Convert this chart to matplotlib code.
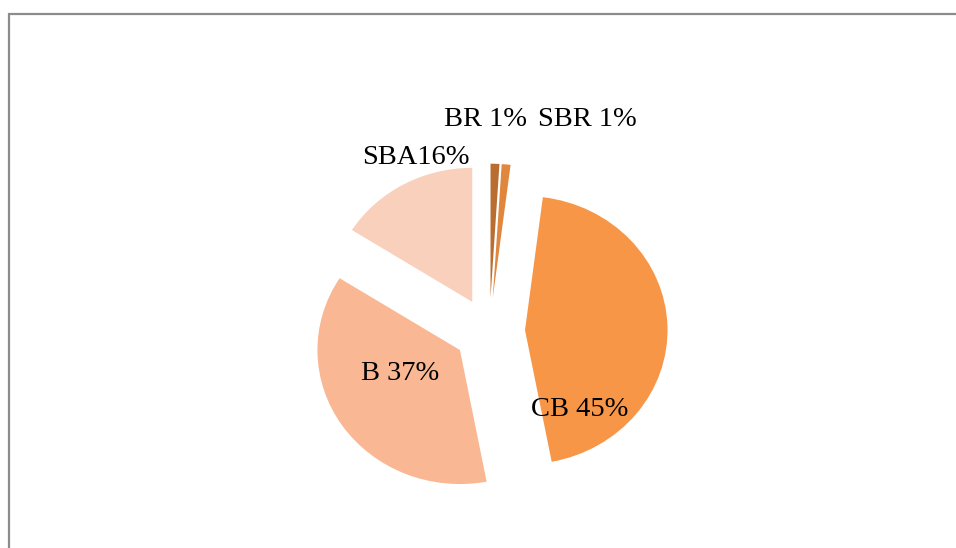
import matplotlib
matplotlib.use("Agg")
import matplotlib.pyplot as plt
from matplotlib.patches import Rectangle

# Data (clockwise from 12 o'clock)
categories = ["BR", "SBR", "CB", "B", "SBA"]
values = [1, 1, 45, 37, 16]
label_texts = ["BR 1%", "SBR 1%", "CB 45%", "B 37%", "SBA16%"]
colors = ["#B96D30", "#E0863D", "#F79646", "#F9B793", "#F9D0BC"]

W, H = 956, 548
fig = plt.figure(figsize=(W / 100, H / 100), dpi=100)
ax = fig.add_axes([0, 0, 1, 1])

ax.pie(values, colors=colors, startangle=90, counterclock=False,
       explode=[0.25] * len(values), radius=1.0,
       wedgeprops=dict(linewidth=0))

# pie geometry in pixels: centre and radii (slightly wider than tall)
cx_px, cy_px = 489.4, 331.2
rx_px, ry_px = 142.5, 134.0
ax.set_aspect('auto')
ax.set_xlim(-cx_px / rx_px, (W - cx_px) / rx_px)
ax.set_ylim(-(H - cy_px) / ry_px, cy_px / ry_px)
ax.axis('off')

# label positions (pixel centres, from top-left)
label_pos = [(485, 120), (587, 120), (580, 409), (400, 374), (416, 158)]
for txt, (px, py) in zip(label_texts, label_pos):
    fig.text(px / W, 1 - py / H, txt, ha='center', va='center',
             fontsize=20.5, family='Liberation Serif', color='black')

# chart border (continues past right and bottom edges)
fig.patches.append(Rectangle((8.5 / W, -0.1), 1.2, (H - 14.5) / H + 0.1,
                             transform=fig.transFigure, fill=False,
                             edgecolor='#8C8C8C', linewidth=1.6))

fig.savefig("out.png", dpi=100)
